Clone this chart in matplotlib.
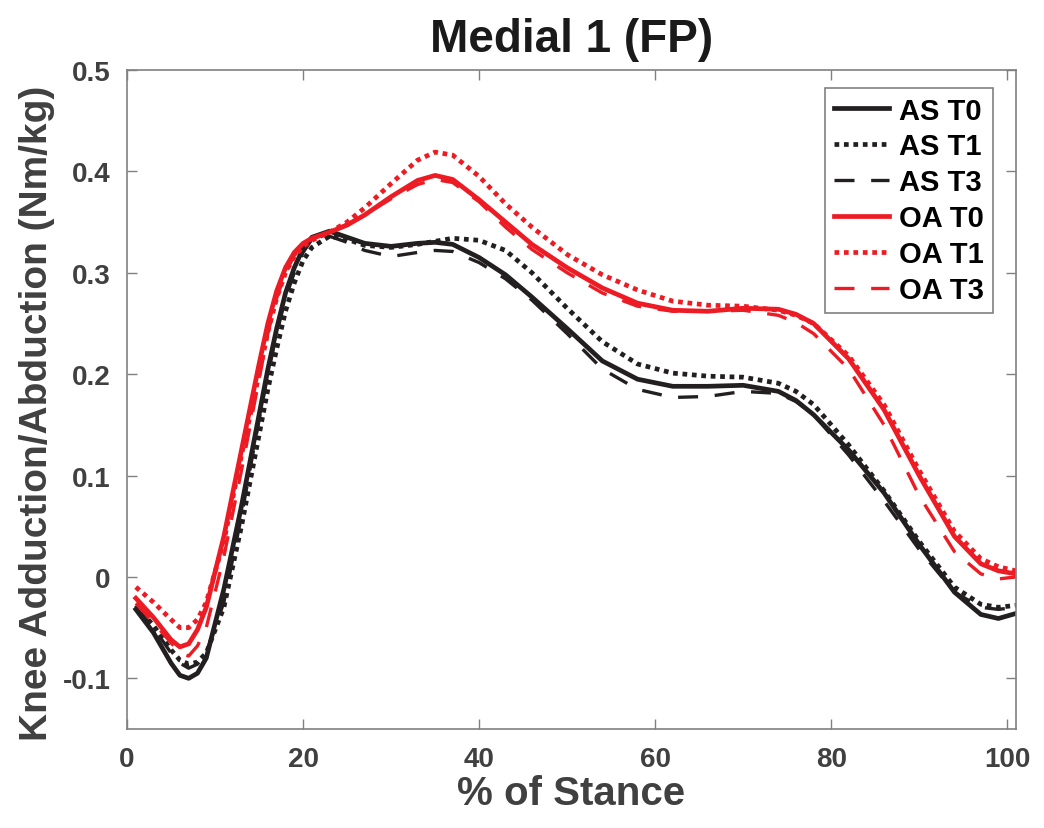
#!/usr/bin/env python3

import matplotlib
matplotlib.use('Agg')
import matplotlib.pyplot as plt

plt.rcParams['font.family'] = ['Liberation Sans', 'DejaVu Sans']
plt.rcParams['font.weight'] = 'bold'

# % of stance sample points
stance = [1, 3, 5, 6, 7, 8, 9, 11, 13, 15, 16, 17, 18, 19, 20, 21, 23, 25, 27, 30, 33, 35, 37,
          40, 43, 46, 50, 54, 58, 62, 66, 70, 74, 76, 78, 82, 86, 90, 94, 97, 99, 101]

as_t0 = [-0.032, -0.055, -0.085, -0.097, -0.100, -0.095, -0.080, -0.012, 0.070, 0.160, 0.205,
         0.245, 0.280, 0.305, 0.324, 0.335, 0.341, 0.335, 0.329, 0.326, 0.329, 0.330, 0.328,
         0.315, 0.298, 0.276, 0.245, 0.213, 0.195, 0.188, 0.188, 0.189, 0.183, 0.174, 0.160,
         0.125, 0.083, 0.032, -0.015, -0.037, -0.041, -0.036]
as_t1 = [-0.028, -0.048, -0.072, -0.082, -0.086, -0.084, -0.075, -0.030, 0.050, 0.140, 0.185,
         0.225, 0.262, 0.290, 0.312, 0.325, 0.336, 0.333, 0.327, 0.325, 0.328, 0.331, 0.334,
         0.332, 0.322, 0.300, 0.265, 0.232, 0.210, 0.201, 0.198, 0.197, 0.191, 0.183, 0.170,
         0.130, 0.085, 0.035, -0.010, -0.027, -0.030, -0.028]
as_t3 = [-0.030, -0.050, -0.075, -0.085, -0.090, -0.086, -0.075, -0.025, 0.060, 0.155, 0.200,
         0.240, 0.275, 0.300, 0.320, 0.333, 0.336, 0.330, 0.322, 0.316, 0.320, 0.322, 0.321,
         0.310, 0.294, 0.273, 0.240, 0.205, 0.185, 0.177, 0.178, 0.183, 0.181, 0.173, 0.160,
         0.120, 0.075, 0.027, -0.015, -0.030, -0.032, -0.030]
oa_t0 = [-0.021, -0.040, -0.062, -0.069, -0.066, -0.052, -0.030, 0.040, 0.125, 0.210, 0.250,
         0.282, 0.305, 0.320, 0.329, 0.334, 0.340, 0.347, 0.357, 0.375, 0.391, 0.396, 0.392,
         0.372, 0.350, 0.328, 0.305, 0.285, 0.270, 0.263, 0.262, 0.265, 0.264, 0.259, 0.250,
         0.215, 0.165, 0.100, 0.040, 0.013, 0.006, 0.003]
oa_t1 = [-0.010, -0.025, -0.042, -0.050, -0.050, -0.042, -0.025, 0.035, 0.120, 0.200, 0.242,
         0.275, 0.300, 0.316, 0.326, 0.332, 0.340, 0.350, 0.364, 0.388, 0.411, 0.419, 0.416,
         0.395, 0.368, 0.345, 0.318, 0.298, 0.283, 0.272, 0.268, 0.267, 0.263, 0.258, 0.250,
         0.218, 0.170, 0.105, 0.045, 0.018, 0.010, 0.006]
oa_t3 = [-0.026, -0.045, -0.065, -0.075, -0.078, -0.068, -0.050, 0.020, 0.105, 0.195, 0.240,
         0.275, 0.300, 0.317, 0.327, 0.333, 0.340, 0.348, 0.357, 0.373, 0.387, 0.392, 0.389,
         0.370, 0.345, 0.323, 0.300, 0.280, 0.267, 0.262, 0.262, 0.263, 0.258, 0.251, 0.240,
         0.205, 0.150, 0.080, 0.025, 0.003, -0.002, 0.000]

BLACK = '#231f20'
RED = '#ed1c24'
GRAY = '#404040'

fig = plt.figure(figsize=(10.44, 8.29), dpi=100)
ax = fig.add_axes([0.1217, 0.1194, 0.8515, 0.795])

ax.plot(stance, as_t0, color=BLACK, lw=3.4, label='AS T0')
ax.plot(stance, as_t1, color=BLACK, lw=3.4, linestyle=(0, (1, 1)), label='AS T1')
ax.plot(stance, as_t3, color=BLACK, lw=2.4, linestyle=(0, (6, 5)), label='AS T3')
ax.plot(stance, oa_t0, color=RED, lw=3.4, label='OA T0')
ax.plot(stance, oa_t1, color=RED, lw=3.4, linestyle=(0, (1, 1)), label='OA T1')
ax.plot(stance, oa_t3, color=RED, lw=2.4, linestyle=(0, (6, 5)), label='OA T3')

ax.set_xlim(0, 101)
ax.set_ylim(-0.15, 0.5)
ax.set_xticks([0, 20, 40, 60, 80, 100])
ax.set_yticks([-0.1, 0, 0.1, 0.2, 0.3, 0.4, 0.5])
ax.set_yticklabels(['-0.1', '0', '0.1', '0.2', '0.3', '0.4', '0.5'])
ax.tick_params(direction='in', length=7, width=1, color='#808080',
               top=True, right=True, labelsize=20, labelcolor=GRAY, pad=12)
for sp in ax.spines.values():
    sp.set_color('#808080')
    sp.set_linewidth(1.2)

ax.set_xlabel('% of Stance', fontsize=29, fontweight='bold', color=GRAY, labelpad=2)
ax.set_ylabel('Knee Adduction/Abduction (Nm/kg)', fontsize=28, fontweight='bold',
              color=GRAY, labelpad=6)
ax.yaxis.set_label_coords(-0.081, 0.48)
ax.set_title('Medial 1 (FP)', fontsize=33, fontweight='bold', color='#1a1a1a', pad=14)

lgd = ax.legend(loc='upper right', fontsize=21, handlelength=1.9, handletextpad=0.35,
                labelspacing=0.27, borderpad=0.3, borderaxespad=0, fancybox=False,
                framealpha=1, bbox_to_anchor=(0.974, 0.973))
lgd.get_frame().set_edgecolor('#808080')
lgd.get_frame().set_linewidth(1.2)

plt.savefig('out.png', dpi=100)
